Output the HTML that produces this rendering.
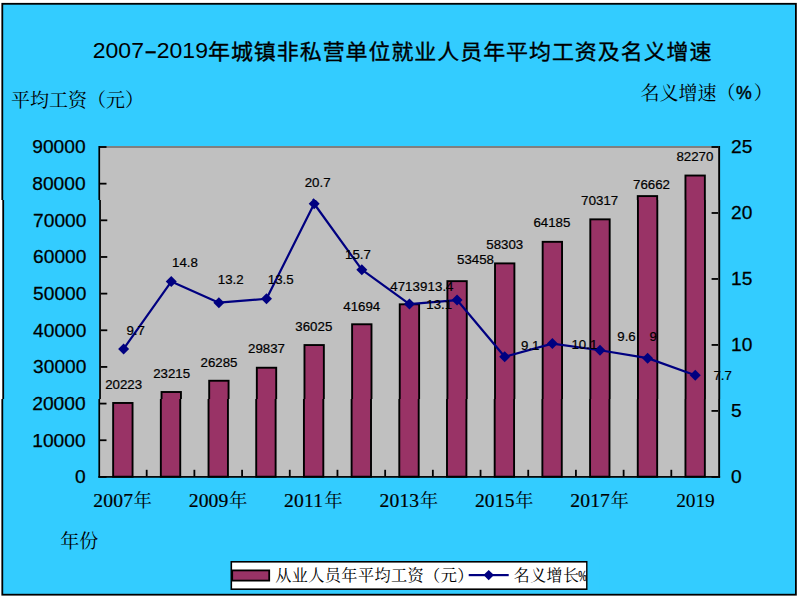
<!DOCTYPE html>
<html><head><meta charset="utf-8"><title>chart</title>
<style>html,body{margin:0;padding:0;background:#fff;}svg{display:block;}text{fill:#000;}</style></head>
<body>
<svg role="img" aria-label="2007-2019年城镇非私营单位就业人员年平均工资及名义增速" width="799" height="601" viewBox="0 0 799 601">
<defs>
<clipPath id="cA"><rect x="0" y="0" width="799" height="200"/></clipPath>
<clipPath id="cB"><rect x="0" y="200" width="799" height="199"/></clipPath>
<clipPath id="cC"><rect x="0" y="399" width="799" height="202"/></clipPath>
<g id="all">
<rect x="0" y="0" width="799" height="601" fill="#fff"/>
<rect x="2.3" y="3.8" width="793.6" height="590.9" fill="#33CCFF" stroke="#000" stroke-width="1.8"/>
<rect x="99" y="146" width="620" height="331" fill="#C0C0C0"/>
<rect x="99" y="146" width="620" height="2" fill="#808080"/>
<rect x="100" y="146.10" width="6.5" height="1.8" fill="#000"/>
<rect x="100" y="182.76" width="6.5" height="1.8" fill="#000"/>
<rect x="100" y="219.41" width="6.5" height="1.8" fill="#000"/>
<rect x="100" y="256.07" width="6.5" height="1.8" fill="#000"/>
<rect x="100" y="292.72" width="6.5" height="1.8" fill="#000"/>
<rect x="100" y="329.38" width="6.5" height="1.8" fill="#000"/>
<rect x="100" y="366.03" width="6.5" height="1.8" fill="#000"/>
<rect x="100" y="402.69" width="6.5" height="1.8" fill="#000"/>
<rect x="100" y="439.34" width="6.5" height="1.8" fill="#000"/>
<rect x="100" y="476.00" width="6.5" height="1.8" fill="#000"/>
<rect x="711.5" y="146.10" width="6.5" height="1.8" fill="#000"/>
<rect x="711.5" y="212.08" width="6.5" height="1.8" fill="#000"/>
<rect x="711.5" y="278.06" width="6.5" height="1.8" fill="#000"/>
<rect x="711.5" y="344.04" width="6.5" height="1.8" fill="#000"/>
<rect x="711.5" y="410.02" width="6.5" height="1.8" fill="#000"/>
<rect x="711.5" y="476.00" width="6.5" height="1.8" fill="#000"/>
<rect x="145.79" y="469.8" width="1.8" height="6.5" fill="#000"/>
<rect x="193.48" y="469.8" width="1.8" height="6.5" fill="#000"/>
<rect x="241.18" y="469.8" width="1.8" height="6.5" fill="#000"/>
<rect x="288.87" y="469.8" width="1.8" height="6.5" fill="#000"/>
<rect x="336.56" y="469.8" width="1.8" height="6.5" fill="#000"/>
<rect x="384.25" y="469.8" width="1.8" height="6.5" fill="#000"/>
<rect x="431.95" y="469.8" width="1.8" height="6.5" fill="#000"/>
<rect x="479.64" y="469.8" width="1.8" height="6.5" fill="#000"/>
<rect x="527.33" y="469.8" width="1.8" height="6.5" fill="#000"/>
<rect x="575.02" y="469.8" width="1.8" height="6.5" fill="#000"/>
<rect x="622.72" y="469.8" width="1.8" height="6.5" fill="#000"/>
<rect x="670.41" y="469.8" width="1.8" height="6.5" fill="#000"/>
<rect x="113.15" y="402.97" width="19.4" height="73.73" fill="#993366" stroke="#000" stroke-width="1.9"/>
<rect x="160.84" y="392.00" width="19.4" height="84.70" fill="#993366" stroke="#000" stroke-width="1.9"/>
<rect x="208.53" y="380.75" width="19.4" height="95.95" fill="#993366" stroke="#000" stroke-width="1.9"/>
<rect x="256.22" y="367.73" width="19.4" height="108.97" fill="#993366" stroke="#000" stroke-width="1.9"/>
<rect x="303.92" y="345.05" width="19.4" height="131.65" fill="#993366" stroke="#000" stroke-width="1.9"/>
<rect x="351.61" y="324.27" width="19.4" height="152.43" fill="#993366" stroke="#000" stroke-width="1.9"/>
<rect x="399.30" y="304.31" width="19.4" height="172.39" fill="#993366" stroke="#000" stroke-width="1.9"/>
<rect x="446.99" y="281.15" width="19.4" height="195.55" fill="#993366" stroke="#000" stroke-width="1.9"/>
<rect x="494.68" y="263.39" width="19.4" height="213.31" fill="#993366" stroke="#000" stroke-width="1.9"/>
<rect x="542.38" y="241.83" width="19.4" height="234.87" fill="#993366" stroke="#000" stroke-width="1.9"/>
<rect x="590.07" y="219.35" width="19.4" height="257.35" fill="#993366" stroke="#000" stroke-width="1.9"/>
<rect x="637.76" y="196.09" width="19.4" height="280.61" fill="#993366" stroke="#000" stroke-width="1.9"/>
<rect x="685.45" y="175.53" width="19.4" height="301.17" fill="#993366" stroke="#000" stroke-width="1.9"/>
<rect x="98.4" y="146" width="1.7" height="331.75" fill="#000"/>
<rect x="718.2" y="146" width="1.9" height="331.75" fill="#000"/>
<rect x="98.4" y="476.05" width="621.7" height="1.7" fill="#000"/>
<polyline points="122.85,348.90 170.54,281.60 218.23,302.71 265.92,298.75 313.62,203.74 361.31,269.72 409.00,304.03 456.69,300.07 504.38,356.82 552.08,343.62 599.77,350.22 647.46,358.14 695.15,375.29" fill="none" stroke="#000080" stroke-width="2.2" stroke-linejoin="round"/>
<path d="M117.35 348.90L122.85 343.40L128.35 348.90L122.85 354.40Z" fill="#000080"/>
<path d="M165.04 281.60L170.54 276.10L176.04 281.60L170.54 287.10Z" fill="#000080"/>
<path d="M212.73 302.71L218.23 297.21L223.73 302.71L218.23 308.21Z" fill="#000080"/>
<path d="M260.42 298.75L265.92 293.25L271.42 298.75L265.92 304.25Z" fill="#000080"/>
<path d="M308.12 203.74L313.62 198.24L319.12 203.74L313.62 209.24Z" fill="#000080"/>
<path d="M355.81 269.72L361.31 264.22L366.81 269.72L361.31 275.22Z" fill="#000080"/>
<path d="M403.50 304.03L409.00 298.53L414.50 304.03L409.00 309.53Z" fill="#000080"/>
<path d="M451.19 300.07L456.69 294.57L462.19 300.07L456.69 305.57Z" fill="#000080"/>
<path d="M498.88 356.82L504.38 351.32L509.88 356.82L504.38 362.32Z" fill="#000080"/>
<path d="M546.58 343.62L552.08 338.12L557.58 343.62L552.08 349.12Z" fill="#000080"/>
<path d="M594.27 350.22L599.77 344.72L605.27 350.22L599.77 355.72Z" fill="#000080"/>
<path d="M641.96 358.14L647.46 352.64L652.96 358.14L647.46 363.64Z" fill="#000080"/>
<path d="M689.65 375.29L695.15 369.79L700.65 375.29L695.15 380.79Z" fill="#000080"/>
<text x="85.6" y="153.40" text-anchor="end" font-family="Liberation Sans, sans-serif" font-size="19.2" stroke="#000" stroke-width="0.25">90000</text>
<text x="85.6" y="190.06" text-anchor="end" font-family="Liberation Sans, sans-serif" font-size="19.2" stroke="#000" stroke-width="0.25">80000</text>
<text x="85.6" y="226.71" text-anchor="end" font-family="Liberation Sans, sans-serif" font-size="19.2" stroke="#000" stroke-width="0.25">70000</text>
<text x="85.6" y="263.37" text-anchor="end" font-family="Liberation Sans, sans-serif" font-size="19.2" stroke="#000" stroke-width="0.25">60000</text>
<text x="85.6" y="300.02" text-anchor="end" font-family="Liberation Sans, sans-serif" font-size="19.2" stroke="#000" stroke-width="0.25">50000</text>
<text x="85.6" y="336.68" text-anchor="end" font-family="Liberation Sans, sans-serif" font-size="19.2" stroke="#000" stroke-width="0.25">40000</text>
<text x="85.6" y="373.33" text-anchor="end" font-family="Liberation Sans, sans-serif" font-size="19.2" stroke="#000" stroke-width="0.25">30000</text>
<text x="85.6" y="409.99" text-anchor="end" font-family="Liberation Sans, sans-serif" font-size="19.2" stroke="#000" stroke-width="0.25">20000</text>
<text x="85.6" y="446.64" text-anchor="end" font-family="Liberation Sans, sans-serif" font-size="19.2" stroke="#000" stroke-width="0.25">10000</text>
<text x="85.6" y="483.30" text-anchor="end" font-family="Liberation Sans, sans-serif" font-size="19.2" stroke="#000" stroke-width="0.25">0</text>
<text x="731" y="153.40" font-family="Liberation Sans, sans-serif" font-size="19.2" stroke="#000" stroke-width="0.25">25</text>
<text x="731" y="219.38" font-family="Liberation Sans, sans-serif" font-size="19.2" stroke="#000" stroke-width="0.25">20</text>
<text x="731" y="285.36" font-family="Liberation Sans, sans-serif" font-size="19.2" stroke="#000" stroke-width="0.25">15</text>
<text x="731" y="351.34" font-family="Liberation Sans, sans-serif" font-size="19.2" stroke="#000" stroke-width="0.25">10</text>
<text x="731" y="417.32" font-family="Liberation Sans, sans-serif" font-size="19.2" stroke="#000" stroke-width="0.25">5</text>
<text x="731" y="483.30" font-family="Liberation Sans, sans-serif" font-size="19.2" stroke="#000" stroke-width="0.25">0</text>
<text x="104.40" y="389.10" font-family="Liberation Sans, sans-serif" font-size="13.3" stroke="#000" stroke-width="0.22">20223</text>
<text x="152.40" y="377.85" font-family="Liberation Sans, sans-serif" font-size="13.3" stroke="#000" stroke-width="0.22">23215</text>
<text x="199.90" y="366.60" font-family="Liberation Sans, sans-serif" font-size="13.3" stroke="#000" stroke-width="0.22">26285</text>
<text x="247.40" y="353.35" font-family="Liberation Sans, sans-serif" font-size="13.3" stroke="#000" stroke-width="0.22">29837</text>
<text x="294.80" y="331.30" font-family="Liberation Sans, sans-serif" font-size="13.3" stroke="#000" stroke-width="0.22">36025</text>
<text x="342.80" y="310.60" font-family="Liberation Sans, sans-serif" font-size="13.3" stroke="#000" stroke-width="0.22">41694</text>
<text x="389.90" y="290.60" font-family="Liberation Sans, sans-serif" font-size="13.3" stroke="#000" stroke-width="0.22">47139</text>
<text x="456.70" y="264.20" font-family="Liberation Sans, sans-serif" font-size="13.3" stroke="#000" stroke-width="0.22">53458</text>
<text x="486.00" y="248.80" font-family="Liberation Sans, sans-serif" font-size="13.3" stroke="#000" stroke-width="0.22">58303</text>
<text x="533.10" y="227.50" font-family="Liberation Sans, sans-serif" font-size="13.3" stroke="#000" stroke-width="0.22">64185</text>
<text x="581.10" y="204.80" font-family="Liberation Sans, sans-serif" font-size="13.3" stroke="#000" stroke-width="0.22">70317</text>
<text x="633.00" y="189.40" font-family="Liberation Sans, sans-serif" font-size="13.3" stroke="#000" stroke-width="0.22">76662</text>
<text x="676.40" y="161.40" font-family="Liberation Sans, sans-serif" font-size="13.3" stroke="#000" stroke-width="0.22">82270</text>
<text x="125.65" y="335.10" font-family="Liberation Sans, sans-serif" font-size="13.3" stroke="#000" stroke-width="0.22">9.7</text>
<text x="171.30" y="267.50" font-family="Liberation Sans, sans-serif" font-size="13.3" stroke="#000" stroke-width="0.22">14.8</text>
<text x="217.10" y="284.00" font-family="Liberation Sans, sans-serif" font-size="13.3" stroke="#000" stroke-width="0.22">13.2</text>
<text x="267.20" y="284.00" font-family="Liberation Sans, sans-serif" font-size="13.3" stroke="#000" stroke-width="0.22">13.5</text>
<text x="304.70" y="187.00" font-family="Liberation Sans, sans-serif" font-size="13.3" stroke="#000" stroke-width="0.22">20.7</text>
<text x="344.60" y="258.60" font-family="Liberation Sans, sans-serif" font-size="13.3" stroke="#000" stroke-width="0.22">15.7</text>
<text x="425.90" y="309.30" font-family="Liberation Sans, sans-serif" font-size="13.3" stroke="#000" stroke-width="0.22">13.1</text>
<text x="427.20" y="290.60" font-family="Liberation Sans, sans-serif" font-size="13.3" stroke="#000" stroke-width="0.22">13.4</text>
<text x="520.70" y="350.40" font-family="Liberation Sans, sans-serif" font-size="13.3" stroke="#000" stroke-width="0.22">9.1</text>
<text x="571.20" y="348.60" font-family="Liberation Sans, sans-serif" font-size="13.3" stroke="#000" stroke-width="0.22">10.1</text>
<text x="617.10" y="340.90" font-family="Liberation Sans, sans-serif" font-size="13.3" stroke="#000" stroke-width="0.22">9.6</text>
<text x="649.30" y="340.90" font-family="Liberation Sans, sans-serif" font-size="13.3" stroke="#000" stroke-width="0.22">9</text>
<text x="713.40" y="380.20" font-family="Liberation Sans, sans-serif" font-size="13.3" stroke="#000" stroke-width="0.22">7.7</text>
<g transform="translate(0 58.3) scale(1 0.96)"><text x="92.8" y="0" font-family="Liberation Sans, sans-serif" font-size="23">2007</text><text x="156.8" y="0" font-family="Liberation Sans, sans-serif" font-size="23">2019</text></g>
<rect x="145.5" y="51.2" width="10.2" height="2.2" fill="#000"/>
<text transform="translate(208 58.6) scale(1 0.955)" x="0" y="0" font-family="'Liberation Sans', 'Noto Sans CJK SC', sans-serif" font-size="22" letter-spacing="0.94" fill="#000" stroke="#000" stroke-width="0.35">年城镇非私营单位就业人员年平均工资及名义增速</text>
<text x="11" y="106.8" font-family="'Liberation Serif', 'Noto Serif CJK SC', serif" font-size="19" fill="#000">平均工资（元）</text>
<text x="640.5" y="99.8" font-family="'Liberation Serif', 'Noto Serif CJK SC', serif" font-size="19" fill="#000">名义增速（</text>
<text x="735.9" y="99.3" font-family="Liberation Sans, sans-serif" font-size="17.7" stroke="#000" stroke-width="0.45">%</text>
<text x="753.63" y="99.8" font-family="'Liberation Serif', 'Noto Serif CJK SC', serif" font-size="19" fill="#000">）</text>
<text x="60.3" y="547.9" font-family="'Liberation Serif', 'Noto Serif CJK SC', serif" font-size="19" fill="#000">年份</text>
<text x="93.35" y="507" font-family="Liberation Serif, serif" font-size="19.6" letter-spacing="0.15" stroke="#000" stroke-width="0.2">2007</text>
<text x="133.55" y="507.3" font-family="'Liberation Serif', 'Noto Serif CJK SC', serif" font-size="18.4" fill="#000">年</text>
<text x="188.73" y="507" font-family="Liberation Serif, serif" font-size="19.6" letter-spacing="0.15" stroke="#000" stroke-width="0.2">2009</text>
<text x="228.93" y="507.3" font-family="'Liberation Serif', 'Noto Serif CJK SC', serif" font-size="18.4" fill="#000">年</text>
<text x="284.12" y="507" font-family="Liberation Serif, serif" font-size="19.6" letter-spacing="0.15" stroke="#000" stroke-width="0.2">2011</text>
<text x="324.32" y="507.3" font-family="'Liberation Serif', 'Noto Serif CJK SC', serif" font-size="18.4" fill="#000">年</text>
<text x="379.50" y="507" font-family="Liberation Serif, serif" font-size="19.6" letter-spacing="0.15" stroke="#000" stroke-width="0.2">2013</text>
<text x="419.70" y="507.3" font-family="'Liberation Serif', 'Noto Serif CJK SC', serif" font-size="18.4" fill="#000">年</text>
<text x="474.88" y="507" font-family="Liberation Serif, serif" font-size="19.6" letter-spacing="0.15" stroke="#000" stroke-width="0.2">2015</text>
<text x="515.08" y="507.3" font-family="'Liberation Serif', 'Noto Serif CJK SC', serif" font-size="18.4" fill="#000">年</text>
<text x="570.27" y="507" font-family="Liberation Serif, serif" font-size="19.6" letter-spacing="0.15" stroke="#000" stroke-width="0.2">2017</text>
<text x="610.47" y="507.3" font-family="'Liberation Serif', 'Noto Serif CJK SC', serif" font-size="18.4" fill="#000">年</text>
<text x="676.25" y="507" font-family="Liberation Serif, serif" font-size="19.4" letter-spacing="-0.1" stroke="#000" stroke-width="0.1">2019</text>
<rect x="231.3" y="561.8" width="355.6" height="27.4" fill="#fff"/>
<rect x="232.2" y="570.4" width="37" height="10.2" fill="#993366" stroke="#000" stroke-width="1.8"/>
<text x="275.18" y="581" font-family="'Liberation Serif', 'Noto Serif CJK SC', serif" font-size="16.2" letter-spacing="0.36" fill="#000">从业人员年平均工资（元）</text>
<rect x="468.7" y="574" width="40" height="2.2" fill="#000080"/>
<path d="M483.5 575.1L488.7 569.9L493.9 575.1L488.7 580.3Z" fill="#000080"/>
<text x="513.85" y="581" font-family="'Liberation Serif', 'Noto Serif CJK SC', serif" font-size="15.9" letter-spacing="0.5" fill="#000">名义增长</text>
<text transform="translate(578.24 580.57) scale(0.668 1)" x="0" y="0" font-family="'Liberation Serif', serif" font-size="15.27" fill="#111" stroke="#111" stroke-width="0.3">%</text>
<rect x="231.3" y="561.8" width="355.6" height="27.4" fill="none" stroke="#000" stroke-width="1.6"/>
<rect x="587.7" y="560" width="12" height="32" fill="#33CCFF"/>
</g>
</defs>
<g clip-path="url(#cA)"><use href="#all"/></g>
<g clip-path="url(#cB)"><use href="#all" transform="translate(0.9 0) scale(0.99887 1)"/></g>
<g clip-path="url(#cC)"><use href="#all"/></g>
</svg>
</body></html>
